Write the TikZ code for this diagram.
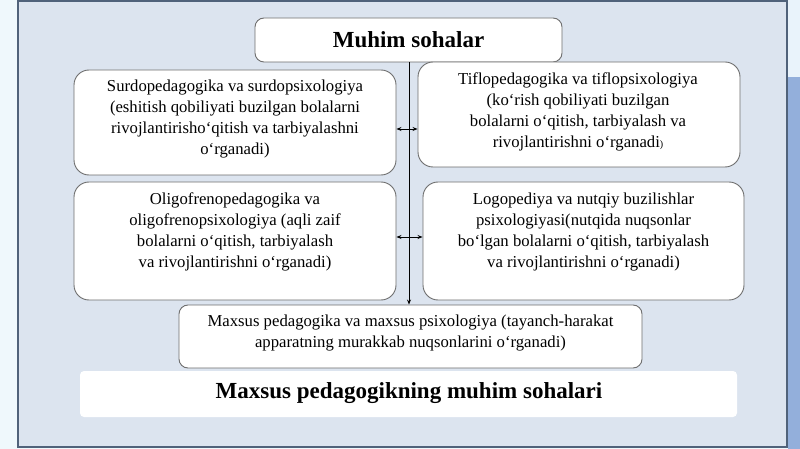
\documentclass[tikz,border=0pt]{standalone}
\usepackage{fontspec}
\setmainfont{Liberation Serif}
\usetikzlibrary{arrows.meta}
\definecolor{outerbg}{HTML}{EFF8FC}
\definecolor{framefill}{HTML}{DCE4EF}
\definecolor{frameline}{HTML}{50627A}
\definecolor{stripTop}{HTML}{E9F3FB}
\definecolor{stripBlue}{HTML}{93AFDB}
\definecolor{boxline}{HTML}{6E6E6E}
\tikzset{
  box/.style={draw=boxline, line width=0.9pt, fill=white, rounded corners=15pt, inner sep=0pt},
  smallbox/.style={draw=boxline, line width=0.9pt, fill=white, rounded corners=9pt, inner sep=0pt},
  txt/.style={align=center, inner sep=0pt, font=\fontsize{16.7}{21}\selectfont},
  head/.style={align=center, inner sep=0pt, font=\fontsize{23}{27}\selectfont\bfseries},
  conn/.style={line width=0.9pt, black},
  tip/.style={-{Stealth[length=5pt,width=4pt]}},
  dtip/.style={{Stealth[length=5pt,width=4pt]}-{Stealth[length=5pt,width=4pt]}}
}
\begin{document}
\begin{tikzpicture}[x=1pt,y=-1pt]
\useasboundingbox (0,0) rectangle (800,449);
% backgrounds
\fill[outerbg] (0,0) rectangle (800,449);
\fill[stripTop] (788,0) rectangle (800,77);
\fill[stripBlue] (788,77) rectangle (800,449);
\draw[frameline, fill=framefill, line width=1.5pt] (18,1) rectangle (787,447);
% title band
\fill[white, rounded corners=4pt] (80,371) rectangle (737,417);
\node[head] (title) at (409,393) {Maxsus pedagogikning muhim sohalari};
% boxes
\node[smallbox, minimum width=307pt, minimum height=44pt] (top) at (408.5,40) {};
\node[head] (toptxt) at (408.5,40) {Muhim sohalar};
\node[box, minimum width=322pt, minimum height=105pt] (tl) at (235,122.5) {};
\node[txt] (tltxt) at (235,119) {Surdopedagogika va surdopsixologiya\\(eshitish qobiliyati buzilgan bolalarni\\rivojlantirisho‘qitish va tarbiyalashni\\o‘rganadi)};
\node[box, minimum width=322pt, minimum height=105pt] (tr) at (579,114.5) {};
\node[txt] (trtxt) at (578,112) {Tiflopedagogika va tiflopsixologiya\\(ko‘rish qobiliyati buzilgan\\bolalarni o‘qitish, tarbiyalash va\\rivojlantirishni o‘rganadi{\fontsize{10}{10}\selectfont)}};
\node[box, minimum width=322pt, minimum height=118pt] (ml) at (235,241) {};
\node[txt] (mltxt) at (235,232) {Oligofrenopedagogika va\\oligofrenopsixologiya (aqli zaif\\bolalarni o‘qitish, tarbiyalash\\va rivojlantirishni o‘rganadi)};
\node[box, minimum width=321pt, minimum height=118pt] (mr) at (583.5,241) {};
\node[txt] (mrtxt) at (583.5,232) {Logopediya va nutqiy buzilishlar\\psixologiyasi(nutqida nuqsonlar\\bo‘lgan bolalarni o‘qitish, tarbiyalash\\va rivojlantirishni o‘rganadi)};
\node[smallbox, minimum width=463pt, minimum height=63pt] (bot) at (410.5,336.5) {};
\node[txt] (bottxt) at (410.5,333) {Maxsus pedagogika va maxsus psixologiya (tayanch-harakat\\apparatning murakkab nuqsonlarini o‘rganadi)};
% connectors
\coordinate (vtop) at (top.south -| 409,0);
\coordinate (vbot) at (bot.north -| 409,0);
\draw[conn, tip] (vtop) -- (vbot);
\draw[conn, dtip] (tl.east |- 0,129) -- (tr.west |- 0,129);
\draw[conn, dtip] (ml.east |- 0,237) -- (mr.west |- 0,237);
\end{tikzpicture}
\end{document}
